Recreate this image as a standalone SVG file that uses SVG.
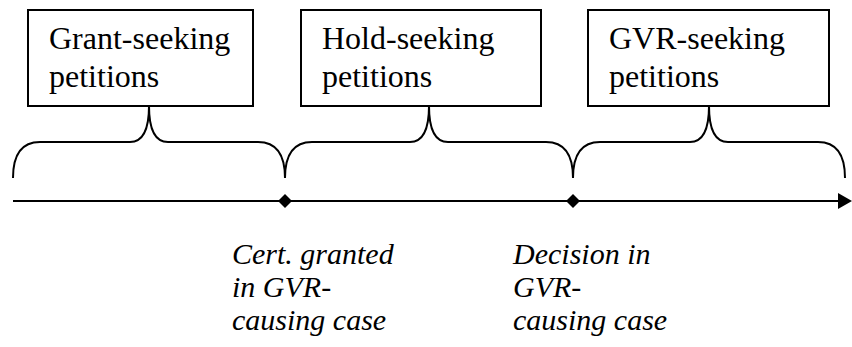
<svg xmlns="http://www.w3.org/2000/svg" width="852" height="347" viewBox="0 0 852 347">
<style>
.box{fill:#fff;stroke:#000;stroke-width:2}
.br{fill:none;stroke:#000;stroke-width:2}
.t{font-family:'Liberation Serif','Times New Roman','DejaVu Serif',serif;font-size:32px;fill:#000}
.i{font-family:'Liberation Serif','Times New Roman','DejaVu Serif',serif;font-size:30px;font-style:italic;fill:#000}
</style>
<rect width="852" height="347" fill="#fff"/>
<g id="connectors">
<line x1="13" y1="201" x2="842" y2="201" stroke="#000" stroke-width="2"/>
<path d="M838,193 L852,201 L838,209 z" fill="#000"/>
<path class="br" d="M13,178 C13,156 20,142 40,142 L130,142 C142,142 149,131 149,106 C149,131 156,142 168,142 L258,142 C278,142 285,156 285,178"/>
<path class="br" d="M285,178 C285,156 292,142 312,142 L410,142 C422,142 429,131 429,106 C429,131 436,142 448,142 L546,142 C566,142 573,156 573,178"/>
<path class="br" d="M573,178 C573,156 580,142 600,142 L690,142 C702,142 709,131 709,106 C709,131 716,142 728,142 L818,142 C838,142 845,156 845,178"/>
<path d="M285,194 L292,201 L285,208 L278,201 z" fill="#000"/>
<path d="M573,194 L580,201 L573,208 L566,201 z" fill="#000"/>
</g>
<g id="grant">
<rect class="box" x="28" y="10" width="225" height="96"/>
<text class="t" x="49" y="49">Grant-seeking</text>
<text class="t" x="49" y="87">petitions</text>
</g>
<g id="hold">
<rect class="box" x="301" y="10" width="240" height="96"/>
<text class="t" x="322" y="49">Hold-seeking</text>
<text class="t" x="322" y="87">petitions</text>
</g>
<g id="gvr">
<rect class="box" x="588" y="10" width="241" height="96"/>
<text class="t" x="609" y="49">GVR-seeking</text>
<text class="t" x="609" y="87">petitions</text>
</g>
<g id="cert">
<text class="i" x="232" y="264">Cert. granted</text>
<text class="i" x="232" y="297">in GVR-</text>
<text class="i" x="232" y="330">causing case</text>
</g>
<g id="decision">
<text class="i" x="513" y="264">Decision in</text>
<text class="i" x="513" y="297">GVR-</text>
<text class="i" x="513" y="330">causing case</text>
</g>
</svg>
